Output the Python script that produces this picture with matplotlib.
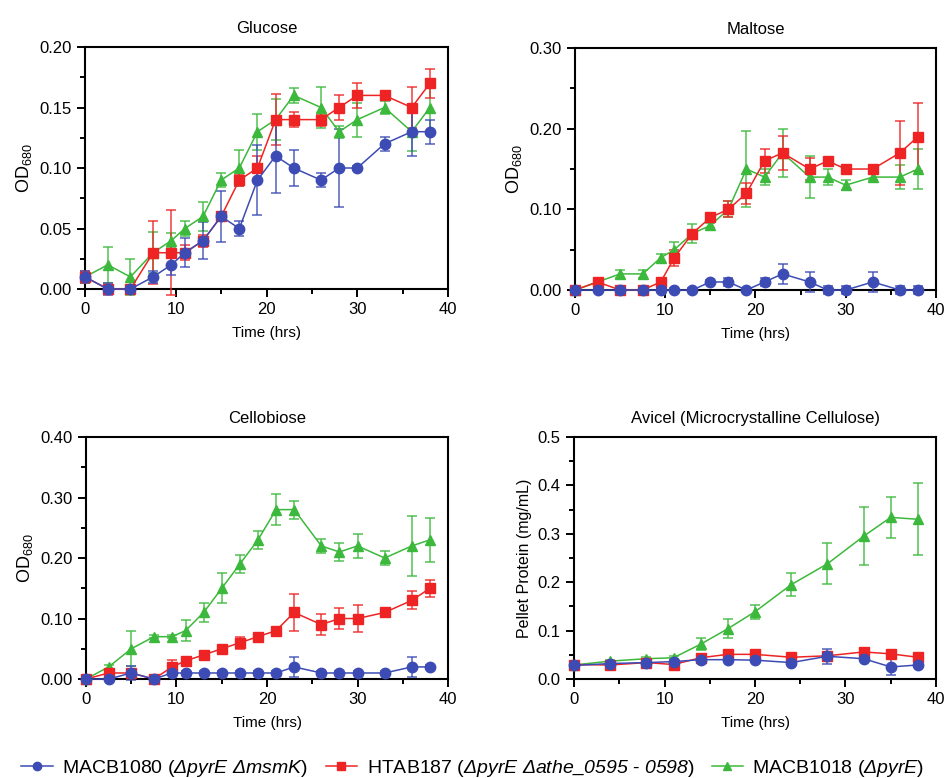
import matplotlib
matplotlib.use('Agg')
import matplotlib.pyplot as plt
from matplotlib.ticker import MultipleLocator, FormatStrFormatter
from matplotlib.lines import Line2D
from matplotlib.colors import to_rgba

plt.rcParams['font.family'] = ['Liberation Sans', 'DejaVu Sans']
plt.rcParams['mathtext.fontset'] = 'custom'
plt.rcParams['mathtext.rm'] = 'Liberation Sans:italic'
plt.rcParams['mathtext.it'] = 'Liberation Sans:italic'
plt.rcParams['mathtext.sf'] = 'Liberation Sans'

BLUE = '#3c4cb4'
RED = '#ee2424'
GREEN = '#3cb93c'

# sampling times (hrs)
t_sugar = [0, 2.5, 5, 7.5, 9.5, 11, 13, 15, 17, 19, 21, 23, 26, 28, 30, 33, 36, 38]
t_avicel = [0, 4, 8, 11, 14, 17, 20, 24, 28, 32, 35, 38]

# Glucose
glu_blue = [0.01, 0.0, 0.0, 0.01, 0.02, 0.03, 0.04, 0.06, 0.05, 0.09, 0.11, 0.10, 0.09, 0.10, 0.10, 0.12, 0.13, 0.13]
glu_blue_err = [0.005, 0.005, 0.002, 0.005, 0.008, 0.012, 0.015, 0.021, 0.006, 0.029, 0.031, 0.015, 0.006, 0.032, 0.002, 0.006, 0.02, 0.01]
glu_red = [0.01, 0.0, 0.0, 0.03, 0.03, 0.03, 0.04, 0.06, 0.09, 0.10, 0.14, 0.14, 0.14, 0.15, 0.16, 0.16, 0.15, 0.17]
glu_red_err = [0.005, 0.002, 0.002, 0.026, 0.035, 0.006, 0.005, 0.003, 0.005, 0.01, 0.021, 0.006, 0.005, 0.01, 0.01, 0.002, 0.017, 0.012]
glu_green = [0.01, 0.02, 0.01, 0.03, 0.04, 0.05, 0.06, 0.09, 0.10, 0.13, 0.14, 0.16, 0.15, 0.13, 0.14, 0.15, 0.13, 0.15]
glu_green_err = [0.004, 0.015, 0.015, 0.017, 0.006, 0.006, 0.012, 0.006, 0.015, 0.015, 0.017, 0.006, 0.017, 0.005, 0.014, 0.005, 0.016, 0.02]

# Maltose
mal_blue = [0, 0, 0, 0, 0, 0, 0, 0.01, 0.01, 0, 0.01, 0.02, 0.01, 0, 0, 0.01, 0, 0]
mal_blue_err = [0.002, 0.002, 0.002, 0.002, 0.002, 0.002, 0.002, 0.003, 0.005, 0.002, 0.005, 0.012, 0.012, 0.005, 0.005, 0.012, 0.005, 0.005]
mal_red = [0, 0.01, 0, 0, 0.01, 0.04, 0.07, 0.09, 0.10, 0.12, 0.16, 0.17, 0.15, 0.16, 0.15, 0.15, 0.17, 0.19]
mal_red_err = [0.002, 0.003, 0.002, 0.002, 0.003, 0.01, 0.005, 0.003, 0.01, 0.013, 0.015, 0.021, 0.014, 0.004, 0.004, 0.004, 0.04, 0.042]
mal_green = [0, 0.01, 0.02, 0.02, 0.04, 0.05, 0.07, 0.08, 0.10, 0.15, 0.14, 0.17, 0.14, 0.14, 0.13, 0.14, 0.14, 0.15]
mal_green_err = [0.002, 0.003, 0.005, 0.005, 0.005, 0.01, 0.012, 0.003, 0.01, 0.047, 0.01, 0.03, 0.026, 0.01, 0.006, 0.004, 0.015, 0.025]

# Cellobiose
cel_blue = [0, 0, 0.01, 0, 0.01, 0.01, 0.01, 0.01, 0.01, 0.01, 0.01, 0.02, 0.01, 0.01, 0.01, 0.01, 0.02, 0.02]
cel_blue_err = [0.002, 0.002, 0.012, 0.003, 0.003, 0.003, 0.003, 0.003, 0.003, 0.003, 0.003, 0.017, 0.003, 0.003, 0.003, 0.003, 0.017, 0.003]
cel_red = [0, 0.01, 0.01, 0, 0.02, 0.03, 0.04, 0.05, 0.06, 0.07, 0.08, 0.11, 0.09, 0.10, 0.10, 0.11, 0.13, 0.15]
cel_red_err = [0.003, 0.003, 0.005, 0.006, 0.012, 0.003, 0.003, 0.003, 0.01, 0.003, 0.003, 0.03, 0.017, 0.017, 0.023, 0.005, 0.015, 0.014]
cel_green = [0, 0.02, 0.05, 0.07, 0.07, 0.08, 0.11, 0.15, 0.19, 0.23, 0.28, 0.28, 0.22, 0.21, 0.22, 0.20, 0.22, 0.23]
cel_green_err = [0.002, 0.003, 0.029, 0.003, 0.003, 0.017, 0.015, 0.025, 0.015, 0.015, 0.025, 0.015, 0.012, 0.015, 0.02, 0.012, 0.05, 0.036]

# Avicel
avi_blue = [0.028, 0.032, 0.034, 0.036, 0.040, 0.040, 0.039, 0.034, 0.047, 0.042, 0.025, 0.029]
avi_blue_err = [0.003, 0.003, 0.003, 0.003, 0.003, 0.003, 0.003, 0.003, 0.015, 0.003, 0.016, 0.003]
avi_red = [0.030, 0.029, 0.034, 0.030, 0.044, 0.051, 0.051, 0.045, 0.048, 0.056, 0.052, 0.045]
avi_red_err = [0.004, 0.004, 0.004, 0.004, 0.004, 0.004, 0.004, 0.004, 0.004, 0.004, 0.004, 0.004]
avi_green = [0.029, 0.037, 0.042, 0.044, 0.072, 0.104, 0.139, 0.195, 0.238, 0.295, 0.334, 0.330]
avi_green_err = [0.003, 0.003, 0.003, 0.003, 0.012, 0.02, 0.014, 0.024, 0.042, 0.06, 0.042, 0.074]

labels = [r'MACB1080 ($ΔpyrE\ ΔmsmK$)',
          r'HTAB187 ($ΔpyrE\ Δathe\_0595$ - $0598$)',
          r'MACB1018 ($ΔpyrE$)']

fig = plt.figure(figsize=(9.46, 7.78), dpi=100)
ax_glu = fig.add_axes([0.0899, 0.6285, 0.3837, 0.3111])
ax_mal = fig.add_axes([0.6078, 0.6272, 0.3816, 0.3111])
ax_cel = fig.add_axes([0.0909, 0.1272, 0.3827, 0.3111])
ax_avi = fig.add_axes([0.6068, 0.1272, 0.3826, 0.3111])


def draw(ax, t, series, title, ylabel, ysize, ytop, ymaj, fmt):
    for y, err, color, marker in series:
        ax.errorbar(t, y, yerr=err, color=color, marker=marker, markersize=7.5,
                    linewidth=1.1, elinewidth=1.3, capsize=3.8, capthick=1.3,
                    ecolor=to_rgba(color, 0.75), clip_on=False, zorder=3)
    ax.set_xlim(0, 40)
    ax.set_ylim(0, ytop)
    ax.xaxis.set_major_locator(MultipleLocator(10))
    ax.xaxis.set_minor_locator(MultipleLocator(5))
    ax.yaxis.set_major_locator(MultipleLocator(ymaj))
    ax.yaxis.set_minor_locator(MultipleLocator(ymaj / 2))
    ax.yaxis.set_major_formatter(FormatStrFormatter(fmt))
    ax.tick_params(which='major', length=6, width=1.4, labelsize=12, direction='out')
    ax.tick_params(which='minor', length=3.8, width=1.4, direction='out')
    for s in ax.spines.values():
        s.set_linewidth(1.5)
    ax.set_title(title, fontsize=12, pad=10)
    ax.set_xlabel('Time (hrs)', fontsize=11, labelpad=6)
    ax.set_ylabel(ylabel, fontsize=ysize, labelpad=4)


def sets(b, be, r, re, g, ge):
    # green drawn first, blue ends up on top
    return [(g, ge, GREEN, '^'), (r, re, RED, 's'), (b, be, BLUE, 'o')]


od = r'OD$_{\mathsf{680}}$'
draw(ax_glu, t_sugar, sets(glu_blue, glu_blue_err, glu_red, glu_red_err, glu_green, glu_green_err),
     'Glucose', od, 13, 0.20, 0.05, '%.2f')
draw(ax_mal, t_sugar, sets(mal_blue, mal_blue_err, mal_red, mal_red_err, mal_green, mal_green_err),
     'Maltose', od, 13, 0.30, 0.10, '%.2f')
draw(ax_cel, t_sugar, sets(cel_blue, cel_blue_err, cel_red, cel_red_err, cel_green, cel_green_err),
     'Cellobiose', od, 13, 0.40, 0.10, '%.2f')
draw(ax_avi, t_avicel, sets(avi_blue, avi_blue_err, avi_red, avi_red_err, avi_green, avi_green_err),
     'Avicel (Microcrystalline Cellulose)', 'Pellet Protein (mg/mL)', 11.5, 0.5, 0.1, '%.1f')

handles = [Line2D([], [], color=BLUE, marker='o', markersize=6, linewidth=1.1),
           Line2D([], [], color=RED, marker='s', markersize=6, linewidth=1.1),
           Line2D([], [], color=GREEN, marker='^', markersize=6, linewidth=1.1)]
fig.legend(handles, labels, loc='center', bbox_to_anchor=(0.5, 0.012), ncol=3,
           frameon=False, fontsize=14, handlelength=1.6, columnspacing=0.9,
           handletextpad=0.5)

fig.savefig('out.png', dpi=100)
